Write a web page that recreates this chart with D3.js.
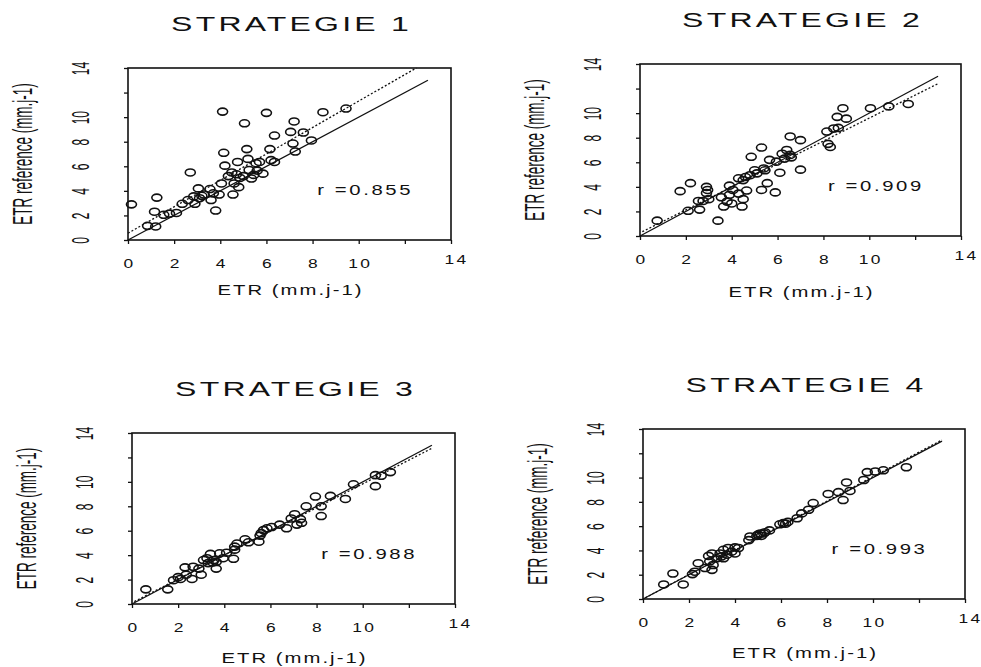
<!DOCTYPE html>
<html>
<head>
<meta charset="utf-8">
<script src="https://cdn.jsdelivr.net/npm/d3@7"></script>
<style>
  body { margin: 0; background: #fff; }
  text { font-family: "Liberation Sans", Arial, sans-serif; fill: #111; }
</style>
</head>
<body>
<div id="body"></div>
<script>
var titles = ["STRATEGIE 1", "STRATEGIE 2", "STRATEGIE 3", "STRATEGIE 4"];
var rLabels = ["r =0.855", "r =0.909", "r =0.988", "r =0.993"];
var ticks = [0, 2, 4, 6, 8, 10, 12, 14];
var xTitle = "ETR (mm.j-1)";
var yTitle = "ETR reference (mm.j-1)";

// [ETR, ETR reference]
var s1 = [[0.15,2.9],[1.25,3.45],[1.15,2.3],[0.85,1.15],[1.2,1.1],[1.55,2.05],[1.8,2.15],[2.1,2.2],[2.35,2.95],[2.7,5.5],[2.6,3.25],[2.85,3.55],[2.9,2.95],[3.05,4.2],[3.1,3.4],[3.3,3.7],[3.55,4.15],[3.6,3.25],[3.8,2.4],[3.7,3.8],[3.95,3.7],[4.1,10.45],[4.15,7.1],[4.2,6.05],[4.05,4.6],[4.35,5.2],[4.55,3.7],[4.6,4.6],[4.75,6.35],[4.7,5.35],[4.8,4.3],[4.85,5.05],[5.05,9.5],[5.15,7.4],[5.2,6.6],[5.25,5.7],[5.35,5.0],[5.45,5.3],[5.55,6.25],[5.6,5.65],[5.7,6.35],[5.85,5.4],[6.0,10.35],[6.15,7.4],[6.2,6.5],[6.35,6.35],[6.35,8.5],[7.05,8.8],[7.2,9.65],[7.15,7.85],[7.25,7.2],[7.6,8.75],[7.95,8.1],[8.45,10.4],[9.45,10.7],[4.5,5.5],[5.0,5.2],[3.2,3.6]];
var s2 = [[0.75,1.25],[1.75,3.65],[2.2,4.3],[2.1,2.05],[2.6,2.15],[2.55,2.85],[2.9,4.0],[2.9,3.5],[3.0,3.0],[2.75,2.85],[3.4,1.25],[3.55,3.15],[3.65,2.4],[3.9,4.1],[3.9,3.35],[4.0,2.65],[4.05,3.75],[4.3,4.7],[4.45,2.4],[4.5,3.0],[4.65,3.7],[4.6,4.8],[4.85,6.45],[5.0,5.35],[5.1,5.1],[5.3,3.75],[5.3,7.2],[5.45,5.35],[5.55,4.3],[5.65,6.2],[5.9,3.55],[5.95,6.05],[6.1,5.15],[6.2,6.7],[6.3,6.3],[6.4,7.0],[6.55,8.1],[6.6,6.4],[7.0,7.8],[7.0,5.4],[8.15,8.5],[8.2,7.5],[8.3,7.25],[8.45,8.75],[8.6,9.7],[8.65,8.8],[8.85,10.4],[9.0,9.55],[10.05,10.4],[10.85,10.55],[11.7,10.75],[5.4,5.5],[4.8,4.95],[4.5,4.55],[4.3,3.45],[3.8,2.8],[2.95,3.75],[6.55,6.6]];
var s3 = [[0.6,1.2],[1.55,1.2],[1.8,1.95],[2.1,2.05],[2.3,3.0],[2.35,2.4],[2.6,2.05],[2.65,3.05],[2.9,2.9],[3.0,2.4],[3.1,3.6],[3.3,3.35],[3.4,4.1],[3.55,3.6],[3.65,2.9],[3.65,3.45],[3.8,4.15],[3.95,3.75],[4.1,4.2],[4.4,3.7],[4.45,4.45],[4.55,4.95],[4.9,5.3],[5.05,5.05],[5.5,5.1],[5.55,5.6],[5.7,6.05],[5.85,6.2],[6.05,6.3],[6.4,6.5],[6.7,6.2],[6.9,7.0],[7.05,7.35],[7.15,6.5],[7.35,6.65],[7.55,8.0],[7.95,8.8],[8.2,8.0],[8.2,7.2],[8.6,8.85],[9.25,8.6],[9.6,9.8],[10.55,10.55],[10.55,9.65],[10.8,10.5],[11.2,10.8],[5.6,5.8],[4.45,4.7],[3.25,3.75],[7.3,6.95],[2.0,2.2],[3.5,3.4]];
var s4 = [[0.9,1.2],[1.3,2.1],[1.75,1.2],[2.15,2.05],[2.25,2.25],[2.4,2.95],[2.7,2.55],[2.85,3.55],[2.9,3.1],[3.0,2.4],[3.05,2.8],[3.2,3.35],[3.35,3.75],[3.5,4.05],[3.5,3.35],[3.65,3.65],[3.7,4.2],[3.85,3.9],[4.0,4.25],[4.15,4.2],[4.6,4.85],[4.65,5.15],[4.95,5.2],[5.1,5.4],[5.15,5.2],[5.3,5.5],[5.5,5.65],[5.95,6.15],[6.1,6.25],[6.3,6.35],[6.7,6.65],[6.9,7.05],[7.2,7.35],[7.4,7.9],[8.05,8.65],[8.5,8.8],[8.7,8.15],[8.85,9.6],[9.0,8.9],[9.6,9.8],[9.75,10.45],[10.1,10.5],[10.45,10.6],[11.45,10.85],[3.0,3.75],[5.25,5.4],[4.0,3.75],[5.0,5.3],[6.2,6.2],[3.4,3.5]];

// solid 1:1 line and dotted regression line end points
var identityLine = [[0, 0], [13, 13]];
var fit1 = [[0, 0.55], [12.5, 14.0]];
var fit2 = [[0.1, 0.35], [13, 12.4]];
var fit3 = [[0.1, 0.2], [13, 12.75]];
var fit4 = [[0.1, 0.1], [13, 13.1]];

// page layout of each panel frame (px)
var panels = [
  {title: titles[0], points: s1, fit: fit1, r: rLabels[0], left: 128, right: 451, top: 68, bottom: 240, xlab: 55},
  {title: titles[1], points: s2, fit: fit2, r: rLabels[1], left: 640, right: 961, top: 64, bottom: 236, xlab: 61},
  {title: titles[2], points: s3, fit: fit3, r: rLabels[2], left: 132, right: 455, top: 433, bottom: 604, xlab: 59},
  {title: titles[3], points: s4, fit: fit4, r: rLabels[3], left: 643, right: 965, top: 429, bottom: 599, xlab: 59}
];

var stretch = 1.45;   // horizontal text is wide in the scan
var tall = 2.0;       // rotated text is tall
var ink = "#111";

var svg = d3.select("#body")
  .append("svg")
  .attr("width", 981)
  .attr("height", 667);

function label(d) { return d === 12 ? "" : d; }
function wide(tx, ty, k) { return "translate(" + tx + "," + ty + ") scale(" + (k || stretch) + ",1)"; }

panels.forEach(function(p) {
  var x = d3.scaleLinear().domain([0, 14]).range([p.left, p.right]);
  var y = d3.scaleLinear().domain([0, 14]).range([p.bottom, p.top]);
  var g = svg.append("g");
  var cx = (x(0) + x(14)) / 2, cy = (y(0) + y(14)) / 2;

  g.append("rect")
    .attr("x", x(0)).attr("y", y(14))
    .attr("width", x(14) - x(0)).attr("height", y(0) - y(14))
    .attr("fill", "none").attr("stroke", ink).attr("stroke-width", 1.6);

  var gx = g.append("g")
    .attr("transform", "translate(0," + y(0) + ")")
    .call(d3.axisBottom(x).tickValues(ticks).tickSize(4).tickSizeOuter(0).tickFormat(label));
  gx.select(".domain").remove();
  gx.selectAll("line").attr("stroke", ink).attr("stroke-width", 1.3);
  gx.selectAll("text")
    .attr("y", null).attr("dy", null)
    .attr("font-size", 12)
    .attr("letter-spacing", 1.6)
    .attr("transform", function(d) { return d === 14 ? wide(5, 24) : wide(1, 28); });

  var gy = g.append("g")
    .attr("transform", "translate(" + x(0) + ",0)")
    .call(d3.axisLeft(y).tickValues(ticks).tickSize(4).tickSizeOuter(0).tickFormat(label));
  gy.select(".domain").remove();
  gy.selectAll("line").attr("stroke", ink).attr("stroke-width", 1.3);
  gy.selectAll("text")
    .attr("x", null).attr("dy", null)
    .attr("text-anchor", "middle")
    .attr("font-size", 12)
    .attr("transform", "translate(-39,0) scale(" + tall + ",1) rotate(-90)");

  var line = d3.line().x(function(d) { return x(d[0]); }).y(function(d) { return y(d[1]); });

  g.append("path").datum(identityLine).attr("d", line)
    .attr("fill", "none").attr("stroke", ink).attr("stroke-width", 1.3);
  g.append("path").datum(p.fit).attr("d", line)
    .attr("fill", "none").attr("stroke", ink).attr("stroke-width", 1.3)
    .attr("stroke-dasharray", "2,2");

  g.selectAll("ellipse")
    .data(p.points)
    .enter().append("ellipse")
    .attr("cx", function(d) { return x(d[0]); })
    .attr("cy", function(d) { return y(d[1]); })
    .attr("rx", 5).attr("ry", 3.5)
    .attr("fill", "none").attr("stroke", ink).attr("stroke-width", 1.6);

  g.append("text")
    .attr("transform", wide(x(8.2), y(3.7)))
    .attr("font-size", 14)
    .attr("letter-spacing", 1.8)
    .text(p.r);

  g.append("text")
    .attr("transform", wide(cx + 2, y(14) - 37, 1.6))
    .attr("text-anchor", "middle")
    .attr("font-size", 20)
    .attr("letter-spacing", 2)
    .text(p.title);

  g.append("text")
    .attr("transform", wide(cx + 1, y(0) + p.xlab))
    .attr("text-anchor", "middle")
    .attr("font-size", 14)
    .attr("letter-spacing", 1.4)
    .text(xTitle);

  g.append("text")
    .attr("transform", "translate(" + (x(0) - 96) + "," + cy + ") scale(" + tall + ",1) rotate(-90)")
    .attr("text-anchor", "middle")
    .attr("font-size", 13.5)
    .text(yTitle);
});
</script>
</body>
</html>
